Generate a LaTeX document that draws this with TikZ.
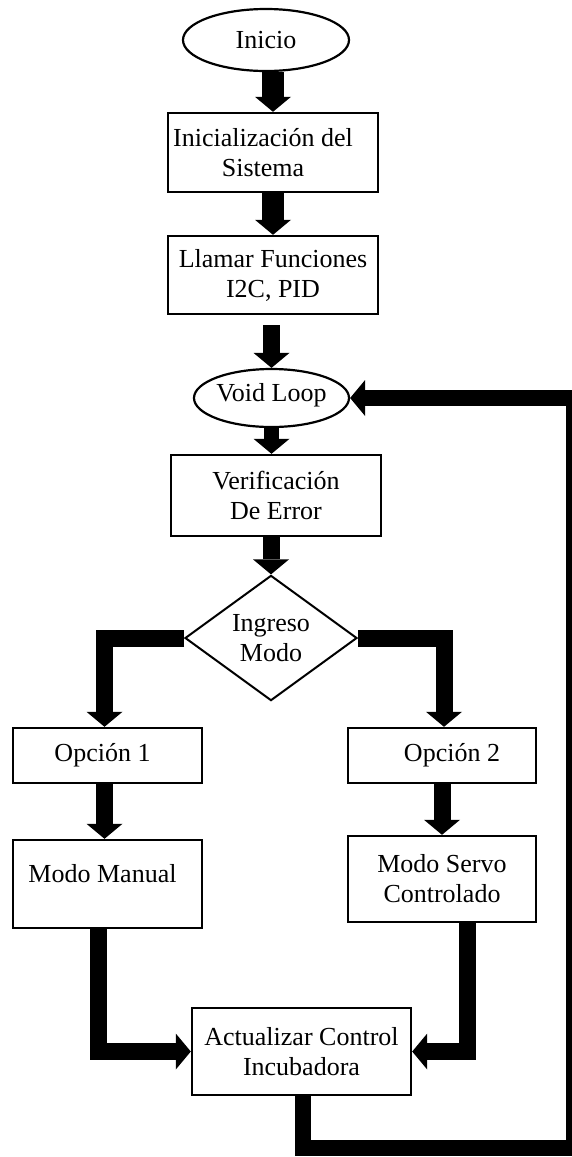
\documentclass[tikz,border=0pt]{standalone}
\usepackage{fontspec}
\setmainfont{Liberation Serif}
\usetikzlibrary{shapes.geometric,arrows.meta,calc}
\begin{document}
\begin{tikzpicture}[x=1pt,y=-1pt,
  every node/.style={font=\fontsize{26pt}{30pt}\selectfont, align=center, inner sep=0pt},
  term/.style={draw, ellipse, line width=2.2pt},
  stepbox/.style={draw, rectangle, line width=2.4pt},
  decision/.style={draw, diamond, line width=2pt},
  flow/.style={line width=17pt, line join=miter, line cap=butt,
    -{Triangle[width=36pt,length=15pt,line width=0pt]}},
]
\useasboundingbox (0,0) rectangle (572,1157);
\clip (0,0) rectangle (572,1157);

% main column
\node[term, minimum width=166pt, minimum height=62pt] (ini) at (266,40) {Inicio};
\node[stepbox, minimum width=210pt, minimum height=79pt,
  label={[xshift=-10pt,align=center]center:Inicialización del\\Sistema}] (b1) at (273,152.5) {};
\node[stepbox, minimum width=210pt, minimum height=78pt] (b2) at (273,275) {Llamar Funciones\\I2C, PID};
\node[term, minimum width=155pt, minimum height=58pt,
  label={[yshift=3pt]center:Void Loop}] (vl) at (271.5,398) {};
\node[stepbox, minimum width=210pt, minimum height=81pt] (b3) at (276,495.5) {Verificación\\De Error};
\node[decision, minimum width=172pt, minimum height=111pt] (dia) at (271,638) {Ingreso\\Modo};

% two branches
\node[stepbox, minimum width=189pt, minimum height=55pt,
  label={[xshift=-5pt]center:Opción 1}] (o1) at (107.5,755.5) {};
\node[stepbox, minimum width=188pt, minimum height=55pt,
  label={[xshift=10pt]center:Opción 2}] (o2) at (442,755.5) {};
\node[stepbox, minimum width=189pt, minimum height=88pt,
  label={[xshift=-5pt,yshift=10pt]center:Modo Manual}] (mm) at (107.5,884) {};
\node[stepbox, minimum width=188pt, minimum height=86pt] (ms) at (442,879) {Modo Servo\\Controlado};
\node[stepbox, minimum width=219pt, minimum height=87pt] (act) at (301.5,1051.5) {Actualizar Control\\Incubadora};

% connectors
\draw[flow, line width=22pt] (ini.south -| b1.north) -- (b1.north);
\draw[flow, line width=22pt] (b1.south) -- (b2.north);
\draw[flow] ([yshift=-10pt]vl.north |- b2.south) -- (vl.north);
\draw[flow, line width=15pt] (vl.south) -- (vl.south |- b3.north);
\draw[flow] (b3.south -| dia.north) -- (dia.north);
\draw[flow] (dia.west) -| ([xshift=-3pt]o1.north);
\draw[flow] (dia.east) -| ([xshift=2pt]o2.north);
\draw[flow] ([xshift=-3pt]o1.south) -- ([xshift=-3pt]o1.south |- mm.north);
\draw[flow] (o2.south) -- (o2.south |- ms.north);
\draw[flow] ([xshift=-9.5pt]mm.south) |- (act.west);
\draw[flow] ([xshift=25pt]ms.south) |- (act.east);

% feedback loop back to Void Loop
\coordinate (loopcorner) at (574,1148);
\draw[flow, line width=16pt] ([xshift=1.5pt]act.south) |- (loopcorner) |- (vl.east);
\end{tikzpicture}
\end{document}
